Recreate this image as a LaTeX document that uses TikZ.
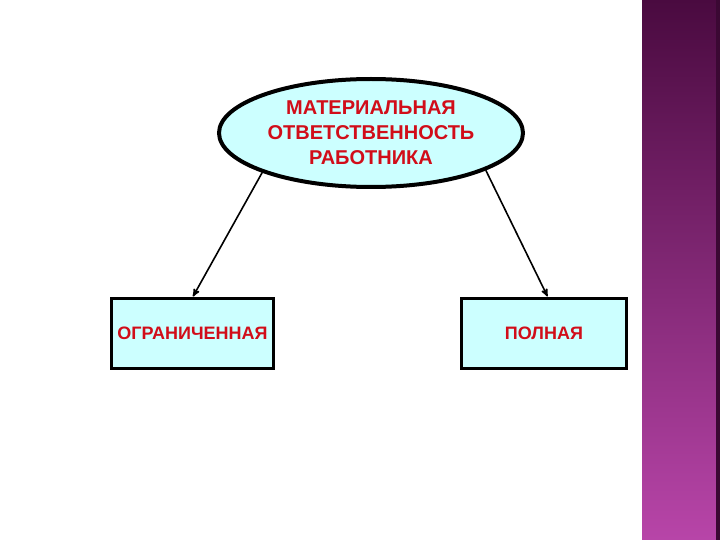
\documentclass[tikz,border=0pt]{standalone}
\usepackage{fontspec}
\setmainfont{Liberation Sans}
\usetikzlibrary{arrows,shapes.geometric}

\definecolor{textred}{rgb}{0.82,0.05,0.1}
\definecolor{paleblue}{rgb}{0.8,1,1}
\definecolor{bartop}{rgb}{0.29,0.04,0.25}
\definecolor{barbottom}{rgb}{0.72,0.27,0.66}

\begin{document}
\begin{tikzpicture}[x=1pt,y=-1pt,->,>=stealth',shorten >=1pt,line width=1.6pt]
  \tikzstyle{every node}=[text=textred,fill=paleblue,draw=black,inner sep=0pt]
  \tikzstyle{oval}=[ellipse,line width=4pt,minimum width=304pt,minimum height=108pt,
                    align=center,font=\fontsize{20}{25}\selectfont\bfseries]
  \tikzstyle{kind}=[rectangle,line width=2.2pt,minimum width=162pt,minimum height=70pt,
                    font=\fontsize{18}{22}\selectfont\bfseries]

  \useasboundingbox (0,0) rectangle (720,540);
  % purple strip on the right
  \shade[top color=bartop,bottom color=barbottom,draw=none] (642,0) rectangle (720,540);
  \fill[bartop!80!black,draw=none] (716,0) rectangle (720,540);

  \node[oval] (MO) at (371,133) {МАТЕРИАЛЬНАЯ\\ОТВЕТСТВЕННОСТЬ\\РАБОТНИКА};
  \node[kind] (LIM) at (192.5,333.5) {ОГРАНИЧЕННАЯ};
  \node[kind,minimum width=165pt] (FULL) at (544,333.5) {ПОЛНАЯ};

  \path (MO.200) edge (LIM.north)
        (MO.342) edge ([xshift=4pt]FULL.north);
\end{tikzpicture}
\end{document}
